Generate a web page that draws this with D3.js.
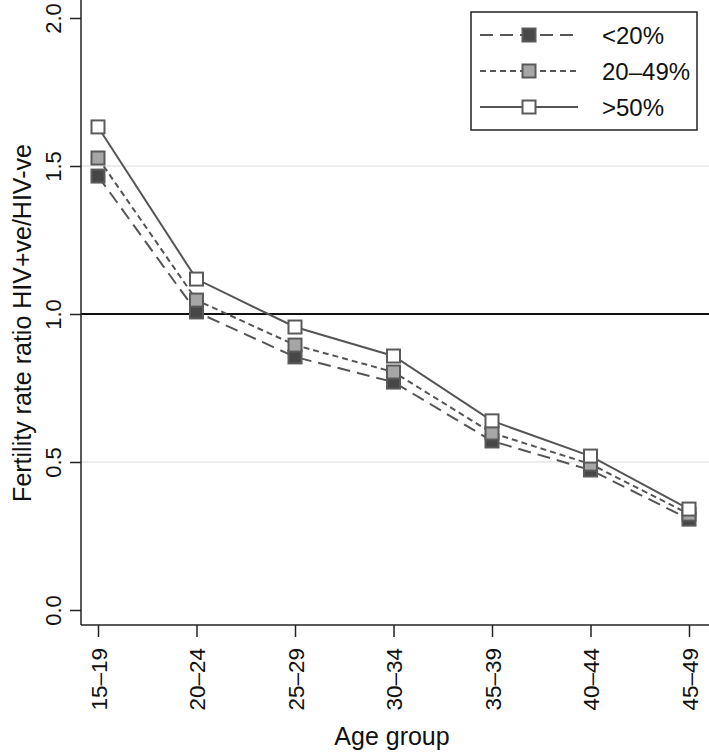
<!DOCTYPE html>
<html>
<head>
<meta charset="utf-8">
<script src="https://cdn.jsdelivr.net/npm/d3@7.9.0/dist/d3.min.js"></script>
<style>
  body { margin: 0; background: #fff; }
  svg { font-family: 'Liberation Sans', Arial, sans-serif; }
</style>
</head>
<body>
<svg id="chart" width="709" height="753"></svg>
<script>
const ageGroups = ['15–19', '20–24', '25–29', '30–34', '35–39', '40–44', '45–49'];
const low = [1.466, 1.007, 0.855, 0.770, 0.571, 0.473, 0.307];
const mid = [1.527, 1.047, 0.895, 0.804, 0.598, 0.493, 0.324];
const high = [1.632, 1.118, 0.956, 0.858, 0.639, 0.520, 0.341];
const seriesNames = ['<20%', '20–49%', '>50%'];
const yTicks = [0, 0.5, 1, 1.5, 2];

const series = [
  { name: seriesNames[0], values: low, fill: '#474747', dash: '13,7' },
  { name: seriesNames[1], values: mid, fill: '#a6a6a6', dash: '6,4' },
  { name: seriesNames[2], values: high, fill: '#ffffff', dash: null },
];

const svg = d3.select('#chart');
const left = 81, bottom = 625;

const x = d3.scalePoint().domain(ageGroups).range([98, 689]);
const y = d3.scaleLinear().domain([0, 2]).range([610, 18]);

// light grid
svg.selectAll('.grid')
  .data([0.5, 1.5])
  .join('line')
  .attr('x1', left).attr('x2', 709)
  .attr('y1', (d) => y(d)).attr('y2', (d) => y(d))
  .attr('stroke', '#e6e6e6').attr('stroke-width', 1.5);

// reference line at 1
svg.append('line')
  .attr('x1', left).attr('x2', 709)
  .attr('y1', y(1)).attr('y2', y(1))
  .attr('stroke', '#111').attr('stroke-width', 2);

// axes
const yAxis = svg.append('g')
  .attr('transform', `translate(${left},0)`)
  .call(d3.axisLeft(y).tickValues(yTicks).tickSize(11).tickFormat(d3.format('.1f')));
yAxis.select('.domain').remove();
yAxis.append('line').attr('x1', 0).attr('x2', 0).attr('y1', 0).attr('y2', bottom)
  .attr('stroke', '#222').attr('stroke-width', 1.5);
yAxis.selectAll('.tick line').attr('stroke', '#222').attr('stroke-width', 1.5);
yAxis.selectAll('.tick text')
  .attr('x', null).attr('dy', null)
  .attr('transform', 'translate(-20,0) rotate(-90)')
  .attr('text-anchor', 'middle')
  .attr('font-size', 22).attr('fill', '#111')
  .attr('font-family', 'Liberation Sans, Arial, sans-serif');

const xAxis = svg.append('g')
  .attr('transform', `translate(0,${bottom})`)
  .call(d3.axisBottom(x).tickSize(12).tickPadding(0));
xAxis.select('.domain').remove();
xAxis.append('line').attr('x1', left).attr('x2', 709).attr('y1', 0).attr('y2', 0)
  .attr('stroke', '#222').attr('stroke-width', 1.5);
xAxis.selectAll('.tick line').attr('stroke', '#222').attr('stroke-width', 1.5);
xAxis.selectAll('.tick text')
  .attr('y', null).attr('dy', null)
  .attr('transform', 'translate(8,23) rotate(-90)')
  .attr('text-anchor', 'end')
  .attr('font-size', 22.5).attr('fill', '#111')
  .attr('font-family', 'Liberation Sans, Arial, sans-serif');

// lines + markers
const line = d3.line().x((d, i) => x(ageGroups[i])).y((d) => y(d));
series.forEach((s) => {
  svg.append('path')
    .attr('d', line(s.values))
    .attr('fill', 'none')
    .attr('stroke', '#555')
    .attr('stroke-width', 2)
    .attr('stroke-dasharray', s.dash);
});
series.forEach((s) => {
  svg.selectAll(null)
    .data(s.values)
    .join('rect')
    .attr('x', (d, i) => x(ageGroups[i]) - 6.5)
    .attr('y', (d) => y(d) - 6.5)
    .attr('width', 13).attr('height', 13)
    .attr('fill', s.fill)
    .attr('stroke', '#5a5a5a').attr('stroke-width', 2);
});

// axis titles
svg.append('text')
  .attr('x', 392).attr('y', 745)
  .attr('text-anchor', 'middle')
  .attr('font-size', 25).attr('fill', '#111')
  .text('Age group');
svg.append('text')
  .attr('transform', 'translate(31,323) rotate(-90)')
  .attr('text-anchor', 'middle')
  .attr('font-size', 25).attr('fill', '#111')
  .text('Fertility rate ratio HIV+ve/HIV-ve');

// legend
const legend = svg.append('g');
legend.append('rect')
  .attr('x', 471).attr('y', 12).attr('width', 226).attr('height', 118)
  .attr('fill', '#fff').attr('stroke', '#222').attr('stroke-width', 1.5);
series.forEach((s, i) => {
  const ly = 35 + i * 36;
  legend.append('line')
    .attr('x1', 480).attr('x2', 578).attr('y1', ly).attr('y2', ly)
    .attr('stroke', '#555').attr('stroke-width', 2)
    .attr('stroke-dasharray', s.dash);
  legend.append('rect')
    .attr('x', 529 - 6.5).attr('y', ly - 6.5).attr('width', 13).attr('height', 13)
    .attr('fill', s.fill).attr('stroke', '#5a5a5a').attr('stroke-width', 2);
  legend.append('text')
    .attr('x', 602).attr('y', ly + 8.5)
    .attr('font-size', 24).attr('fill', '#111')
    .text(s.name);
});
</script>
</body>
</html>
